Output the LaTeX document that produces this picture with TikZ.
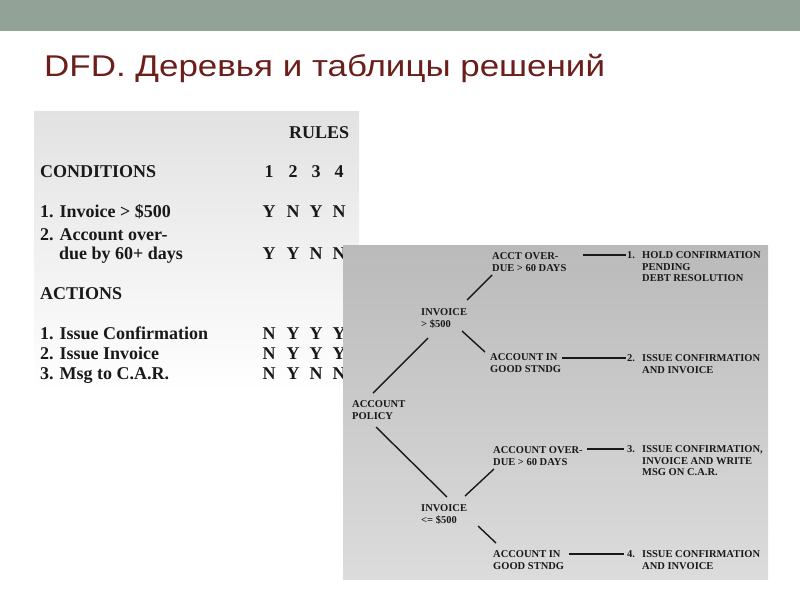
\documentclass[tikz,border=0pt]{standalone}
\usepackage{graphicx}
\usepackage{fontspec}
\setmainfont{Liberation Serif}
\newfontfamily\titlefont{Liberation Sans}
\usetikzlibrary{calc}
\definecolor{band}{RGB}{146,162,151}
\definecolor{titlered}{RGB}{108,30,26}
\definecolor{ink}{RGB}{25,25,25}
\definecolor{treetop}{RGB}{186,186,186}
\definecolor{treebot}{RGB}{220,220,220}
\definecolor{tabtop}{RGB}{226,226,226}
\begin{document}
\begin{tikzpicture}[x=1pt,y=-1pt,
  tab/.style={font=\fontsize{18}{20}\selectfont\bfseries, text=ink, inner sep=0, anchor=base west},
  cell/.style={font=\fontsize{18}{20}\selectfont\bfseries, text=ink, inner sep=0, anchor=base},
  leaf/.style={font=\fontsize{10.5}{11.5}\selectfont\bfseries, text=ink, inner sep=0, anchor=north west, align=left},
  branch/.style={line width=1.4pt, draw=ink}]
\useasboundingbox (0,0) rectangle (800,600);
\fill[white] (0,0) rectangle (800,600);
\fill[band] (0,0) rectangle (800,31);
\node[anchor=base west, inner sep=0, font=\titlefont\fontsize{30}{32}\selectfont, text=titlered] (title) at (44,76.7) {\scalebox{1.165}[1]{DFD. Деревья и таблицы решений}};

% decision table
\shade[top color=tabtop, bottom color=white] (34,111) rectangle (359,392);
\node[tab] (rules) at (289,138) {RULES};
\node[tab] (cond) at (40,177) {CONDITIONS};
\node[cell] (h1) at (269,177) {1};
\node[cell] (h2) at (293,177) {2};
\node[cell] (h3) at (316,177) {3};
\node[cell] (h4) at (339,177) {4};
\node[tab] (c1) at (40,217) {1. Invoice > \$500};
\node[cell] (c1a) at (269,217) {Y};
\node[cell] (c1b) at (293,217) {N};
\node[cell] (c1c) at (316,217) {Y};
\node[cell] (c1d) at (339,217) {N};
\node[tab] (c2) at (40,240) {2. Account over-};
\node[tab] (c2x) at (59,259) {due by 60+ days};
\node[cell] (c2a) at (269,259) {Y};
\node[cell] (c2b) at (293,259) {Y};
\node[cell] (c2c) at (316,259) {N};
\node[cell] (c2d) at (339,259) {N};
\node[tab] (act) at (40,299) {ACTIONS};
\node[tab] (a1) at (40,339) {1. Issue Confirmation};
\node[cell] (a1a) at (269,339) {N};
\node[cell] (a1b) at (293,339) {Y};
\node[cell] (a1c) at (316,339) {Y};
\node[cell] (a1d) at (339,339) {Y};
\node[tab] (a2) at (40,359) {2. Issue Invoice};
\node[cell] (a2a) at (269,359) {N};
\node[cell] (a2b) at (293,359) {Y};
\node[cell] (a2c) at (316,359) {Y};
\node[cell] (a2d) at (339,359) {Y};
\node[tab] (a3) at (40,379) {3. Msg to C.A.R.};
\node[cell] (a3a) at (269,379) {N};
\node[cell] (a3b) at (293,379) {Y};
\node[cell] (a3c) at (316,379) {N};
\node[cell] (a3d) at (339,379) {N};

% decision tree
\shade[top color=treetop, bottom color=treebot] (343,245) rectangle (768,579);
\node[leaf] (pol)  at (352,400.5) {ACCOUNT\\POLICY};
\node[leaf] (inv1) at (421,308.5) {INVOICE\\> \$500};
\node[leaf] (od1)  at (492,252.5) {ACCT OVER-\\DUE > 60 DAYS};
\node[leaf] (gs1)  at (490,353.5) {ACCOUNT IN\\GOOD STNDG};
\node[leaf] (r1)   at (627,251.5) {\makebox[15pt][l]{1.}HOLD CONFIRMATION\\\hspace*{15pt}PENDING\\\hspace*{15pt}DEBT RESOLUTION};
\node[leaf] (r2)   at (627,354.5) {\makebox[15pt][l]{2.}ISSUE CONFIRMATION\\\hspace*{15pt}AND INVOICE};
\node[leaf] (inv2) at (421,504.5) {INVOICE\\<= \$500};
\node[leaf] (od2)  at (493,446.5) {ACCOUNT OVER-\\DUE > 60 DAYS};
\node[leaf] (gs2)  at (493,550.5) {ACCOUNT IN\\GOOD STNDG};
\node[leaf] (r3)   at (627,445.5) {\makebox[15pt][l]{3.}ISSUE CONFIRMATION,\\\hspace*{15pt}INVOICE AND WRITE\\\hspace*{15pt}MSG ON C.A.R.};
\node[leaf] (r4)   at (627,550.5) {\makebox[15pt][l]{4.}ISSUE CONFIRMATION\\\hspace*{15pt}AND INVOICE};

\draw[branch] ($(pol.north west)+(21,-7.5)$) -- ($(inv1.north west)+(7,29.5)$);
\draw[branch] ($(inv1.north west)+(46,-8.5)$) -- ($(od1.north west)+(0,22.5)$);
\draw[branch] ($(inv1.north west)+(41,22.5)$) -- ($(gs1.north west)+(-5,-1.5)$);
\draw[branch] ($(od1.north west)+(91,2.5)$) -- ($(r1.north west)+(-1,3.5)$);
\draw[branch] ($(gs1.north west)+(72,4.5)$) -- ($(r2.north west)+(-1,3.5)$);
\draw[branch] ($(pol.north west)+(24,26.5)$) -- ($(inv2.north west)+(26,-7.5)$);
\draw[branch] ($(inv2.north west)+(44,-8.5)$) -- ($(od2.north west)+(1,22.5)$);
\draw[branch] ($(inv2.north west)+(57,21.5)$) -- ($(gs2.north west)+(3,-7.5)$);
\draw[branch] ($(od2.north west)+(94,2.5)$) -- ($(r3.north west)+(-3,3.5)$);
\draw[branch] ($(gs2.north west)+(76,3.5)$) -- ($(r4.north west)+(-3,3.5)$);
\end{tikzpicture}
\end{document}
